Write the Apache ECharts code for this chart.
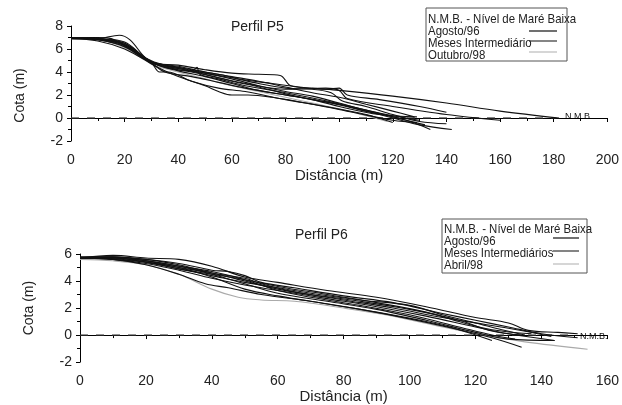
<!DOCTYPE html>
<html>
<head>
<meta charset="utf-8">
<title>Perfis P5 e P6</title>
<script src="https://cdn.jsdelivr.net/npm/echarts@6/dist/echarts.min.js"></script>
<style>
  html, body { margin: 0; padding: 0; background: #fff; }
</style>
</head>
<body>
<div id="chart" style="width: 622px; height: 405px;"></div>
<script>
// Perfil P5 - perfis [distancia, cota]
var p5a = [[0,7],[10,7],[15,6.9],[20,6.3],[25,5.6],[30,4.8],[40,4.6],[50,4.2],[60,3.9],[70,3.8],[78,3.7],[82,2.8],[90,2.6],[100,2.4],[120,1.9],[140,1.3],[160,0.6],[182,0]];
var p5b = [[0,7],[10,6.9],[18,7.2],[22,6.8],[28,5.2],[35,4.4],[45,4.0],[55,3.5],[65,3.0],[80,2.5],[95,2.6],[100,2.4],[103,1.7],[120,1.0],[140,0.3],[160,-0.2]];
var p5c = [[0,7],[10,6.9],[20,6.5],[30,4.9],[40,4.3],[50,3.8],[60,3.2],[70,2.7],[80,2.1],[90,1.6],[100,1.2],[110,0.6],[120,0.0],[130,-0.6],[142,-1.0]];
var p5d = [[0,7],[10,6.9],[20,6.4],[30,4.8],[35,4.0],[45,3.6],[55,3.1],[65,2.6],[80,2.0],[95,1.4],[110,0.6],[125,-0.2],[134,-1.0]];
var p5e = [[0,6.9],[10,6.8],[20,6.2],[30,4.7],[40,3.6],[50,2.8],[55,2.3],[60,2.0],[66,2.0],[75,1.8],[90,1.2],[105,0.5],[120,-0.2],[129,-0.4]];
var p5f = [[0,7],[10,6.8],[20,6.2],[30,4.8],[40,4.1],[50,3.6],[60,3.0],[70,2.4],[80,2.0],[90,1.6],[100,1.0],[115,0.3],[129,0.1]];
var p5g = [[0,6.9],[10,6.7],[20,6.0],[30,4.8],[40,4.2],[45,4.1],[47,4.4],[48,3.8],[55,3.4],[65,2.8],[80,2.2],[95,1.5],[110,0.7],[125,-0.2],[132,-0.6]];
var p5h = [[0,7],[12,6.8],[20,6.5],[30,4.9],[40,4.4],[50,3.9],[60,3.5],[70,3.0],[80,2.6],[90,2.5],[97,2.2],[101,1.5],[110,1.0],[120,0.3],[130,-0.3],[140,-0.5]];
var p5i = [[0,7],[10,6.85],[20,6.3],[30,4.8],[33,4.0],[36,4.0],[45,3.2],[55,2.6],[65,2.3],[80,1.6],[95,1.0],[110,0.3],[120,-0.4]];
var p5j = [[0,7],[10,6.9],[20,6.6],[28,5.2],[35,4.6],[45,4.2],[55,3.8],[65,3.3],[75,3.0],[85,2.7],[95,2.5],[100,2.6],[103,2.0],[115,1.6],[130,1.0],[140,0.5]];
var p5l = [[0,7],[10,6.9],[20,6.3],[30,4.8],[40,4.3],[50,3.9],[60,3.4],[70,2.8],[80,2.3],[90,1.9],[100,1.3],[110,0.7],[120,0.2],[130,-0.2]];
var p5m = [[0,7],[10,6.9],[20,6.4],[30,4.9],[40,4.5],[50,4.0],[60,3.6],[70,3.2],[80,2.7],[90,2.2],[100,1.8],[110,1.2],[120,0.6],[128,0.1]];
var p5out = [[0,6.9],[10,6.8],[20,6.1],[30,4.7],[40,4.0],[50,3.4],[60,2.8],[70,2.3],[80,1.8],[90,1.3],[100,0.8],[110,0.2],[118,-0.3]];
var p5nmb = [[0,0],[181,0]];

// Perfil P6
var p6a = [[0,5.7],[10,5.9],[20,5.7],[30,5.6],[40,5.1],[50,4.3],[60,3.9],[75,3.3],[90,2.8],[105,2.1],[120,1.3],[130,0.9],[136,0.35],[145,0.2],[151,0.1]];
var p6b = [[0,5.7],[10,5.8],[20,5.6],[30,5.3],[40,4.8],[45,4.7],[50,4.4],[55,3.9],[65,3.5],[80,2.9],[95,2.4],[110,1.6],[120,1.1],[130,0.6],[140,0.1],[151,-0.2]];
var p6c = [[0,5.7],[10,5.6],[20,5.3],[30,4.8],[40,4.2],[50,3.7],[60,3.3],[75,2.7],[90,2.1],[105,1.4],[120,0.6],[130,0.1],[144,-0.4]];
var p6e = [[0,5.7],[10,5.6],[20,5.2],[30,4.5],[38,3.8],[45,3.5],[55,3.0],[70,2.5],[85,1.9],[100,1.2],[115,0.4],[125,-0.2],[134,-0.9]];
var p6f = [[0,5.7],[10,5.7],[20,5.4],[30,4.9],[40,4.5],[50,4.1],[60,3.6],[75,3.0],[90,2.4],[105,1.7],[115,1.0],[125,0.4],[137,0.1]];
var p6g = [[0,5.8],[10,5.8],[20,5.5],[30,5.0],[40,4.6],[50,4.0],[60,3.4],[70,3.0],[85,2.5],[100,1.9],[115,1.1],[125,0.3],[134,0.0]];
var p6h = [[0,5.7],[10,5.7],[20,5.5],[30,5.1],[40,4.7],[50,4.1],[60,3.3],[70,2.8],[85,2.2],[100,1.5],[115,0.6],[125,0.0],[132,-0.3]];
var p6i = [[0,5.7],[10,5.6],[20,5.4],[30,5.0],[40,4.3],[50,3.4],[60,2.9],[75,2.3],[90,1.7],[105,1.0],[115,0.4],[125,-0.4]];
var p6j = [[0,5.75],[10,5.75],[20,5.6],[30,5.2],[40,4.6],[50,4.2],[55,3.8],[65,3.2],[80,2.6],[95,2.0],[110,1.3],[120,0.9],[130,0.5],[143,-0.1]];
var p6k = [[0,5.7],[10,5.65],[20,5.4],[30,4.9],[40,4.4],[50,3.9],[60,3.5],[70,3.1],[85,2.6],[100,2.2],[110,1.5],[120,0.9],[128,0.4],[135,0.0]];
var p6l = [[0,5.7],[10,5.7],[20,5.5],[30,5.1],[40,4.5],[50,3.8],[60,3.1],[75,2.5],[90,1.9],[105,1.1],[120,0.2],[130,-0.3],[144,-0.4]];
var p6abr = [[0,5.6],[10,5.5],[20,5.2],[30,4.5],[40,3.4],[48,2.8],[55,2.6],[65,2.5],[80,2.0],[95,1.4],[110,0.6],[120,0.1],[135,-0.5],[154,-1.05]];
var p6nmb = [[0,0],[150,0]];

var legendP5 = ['N.M.B. - Nível de Maré Baixa', 'Agosto/96', 'Meses Intermediário', 'Outubro/98'];
var legendP6 = ['N.M.B. - Nível de Maré Baixa', 'Agosto/96', 'Meses Intermediários', 'Abril/98'];

var font = 'Liberation Sans, Arial, sans-serif';
var chart = echarts.init(document.getElementById('chart'));

function perfil(data, g, color) {
  return {
    type: 'line', xAxisIndex: g, yAxisIndex: g, data: data,
    showSymbol: false, smooth: 0.35, silent: true,
    lineStyle: { color: color || '#111', width: 1.1 }
  };
}
function nmb(data, g) {
  return {
    type: 'line', xAxisIndex: g, yAxisIndex: g, data: data,
    showSymbol: false, silent: true, z: 1,
    lineStyle: { color: '#333', width: 1.2, type: [8, 8] }
  };
}
function xAx(g, max) {
  return {
    gridIndex: g, type: 'value', min: 0, max: max, interval: 20,
    name: 'Distância (m)', nameLocation: 'middle', nameGap: 21,
    nameTextStyle: { fontFamily: font, fontSize: 15, color: '#222' },
    axisLine: { lineStyle: { color: '#000', width: 1 } },
    axisTick: { show: true, length: 4, lineStyle: { color: '#000' } },
    minorTick: { show: true, splitNumber: 2, length: 3, lineStyle: { color: '#000' } },
    axisLabel: { fontFamily: font, fontSize: 14, color: '#222', margin: 12 },
    splitLine: { show: false }
  };
}
function yAx(g, max, pad) {
  return {
    gridIndex: g, type: 'value', min: -2, max: max, interval: 2,
    name: 'Cota (m)', nameLocation: 'middle', nameGap: 44,
    nameTextStyle: { fontFamily: font, fontSize: 14, color: '#222', padding: pad },
    axisLine: { show: true, lineStyle: { color: '#000', width: 1 } },
    axisTick: { show: true, length: 4, lineStyle: { color: '#000' } },
    minorTick: { show: true, splitNumber: 2, length: 3, lineStyle: { color: '#000' } },
    axisLabel: { fontFamily: font, fontSize: 14, color: '#222', margin: 8 },
    splitLine: { show: false }
  };
}
function legendBox(x, y, w, h, rows, labels, lineX, lineW, lineY) {
  var els = [{
    type: 'rect', shape: { x: x, y: y, width: w, height: h },
    style: { fill: '#fff', stroke: '#555', lineWidth: 1 }
  }];
  for (var i = 0; i < labels.length; i++) {
    els.push({
      type: 'text', x: x + 2, y: rows[i], scaleX: 0.88,
      style: { text: labels[i], fontFamily: font, fontSize: 13, fill: '#222', verticalAlign: 'middle' }
    });
  }
  var cols = ['#111', '#333', '#bbb'];
  for (var j = 0; j < 3; j++) {
    els.push({
      type: 'line', shape: { x1: lineX, y1: lineY[j], x2: lineX + lineW, y2: lineY[j] },
      style: { stroke: cols[j], lineWidth: 1.2 }
    });
  }
  return els;
}

var option = {
  animation: false,
  grid: [
    { left: 71, right: 12, top: 26, height: 115 },
    { left: 80, right: 12, top: 254, height: 112 }
  ],
  xAxis: [xAx(0, 200), xAx(1, 160)],
  yAxis: [yAx(0, 8, [0, 24, 0, 0]), yAx(1, 6, 0)],
  title: [
    { text: 'Perfil P5', left: 226, top: 15, textStyle: { fontFamily: font, fontSize: 14, fontWeight: 'normal', color: '#222' } },
    { text: 'Perfil P6', left: 290, top: 223, textStyle: { fontFamily: font, fontSize: 14, fontWeight: 'normal', color: '#222' } }
  ],
  graphic: [].concat(
    legendBox(426, 8, 141, 53, [19, 31, 43, 55], legendP5, 529, 28, [31, 41, 52]),
    legendBox(442, 219, 145, 54, [229, 241, 253, 265], legendP6, 553, 26, [238, 251, 264]),
    [
      { type: 'text', x: 565, y: 117, style: { text: 'N.M.B.', fontFamily: font, fontSize: 9, fill: '#111', verticalAlign: 'middle' } },
      { type: 'text', x: 580, y: 337, style: { text: 'N.M.B.', fontFamily: font, fontSize: 9, fill: '#111', verticalAlign: 'middle' } }
    ]
  ),
  series: [
    nmb(p5nmb, 0),
    perfil(p5out, 0, '#aaa'),
    perfil(p5a, 0), perfil(p5b, 0), perfil(p5c, 0), perfil(p5d, 0), perfil(p5e, 0),
    perfil(p5f, 0), perfil(p5g, 0), perfil(p5h, 0), perfil(p5i, 0), perfil(p5j, 0),
    perfil(p5l, 0), perfil(p5m, 0),
    nmb(p6nmb, 1),
    perfil(p6abr, 1, '#aaa'),
    perfil(p6a, 1), perfil(p6b, 1), perfil(p6c, 1), perfil(p6e, 1), perfil(p6f, 1),
    perfil(p6g, 1), perfil(p6h, 1), perfil(p6i, 1), perfil(p6j, 1), perfil(p6k, 1),
    perfil(p6l, 1)
  ]
};
chart.setOption(option);
</script>
</body>
</html>
